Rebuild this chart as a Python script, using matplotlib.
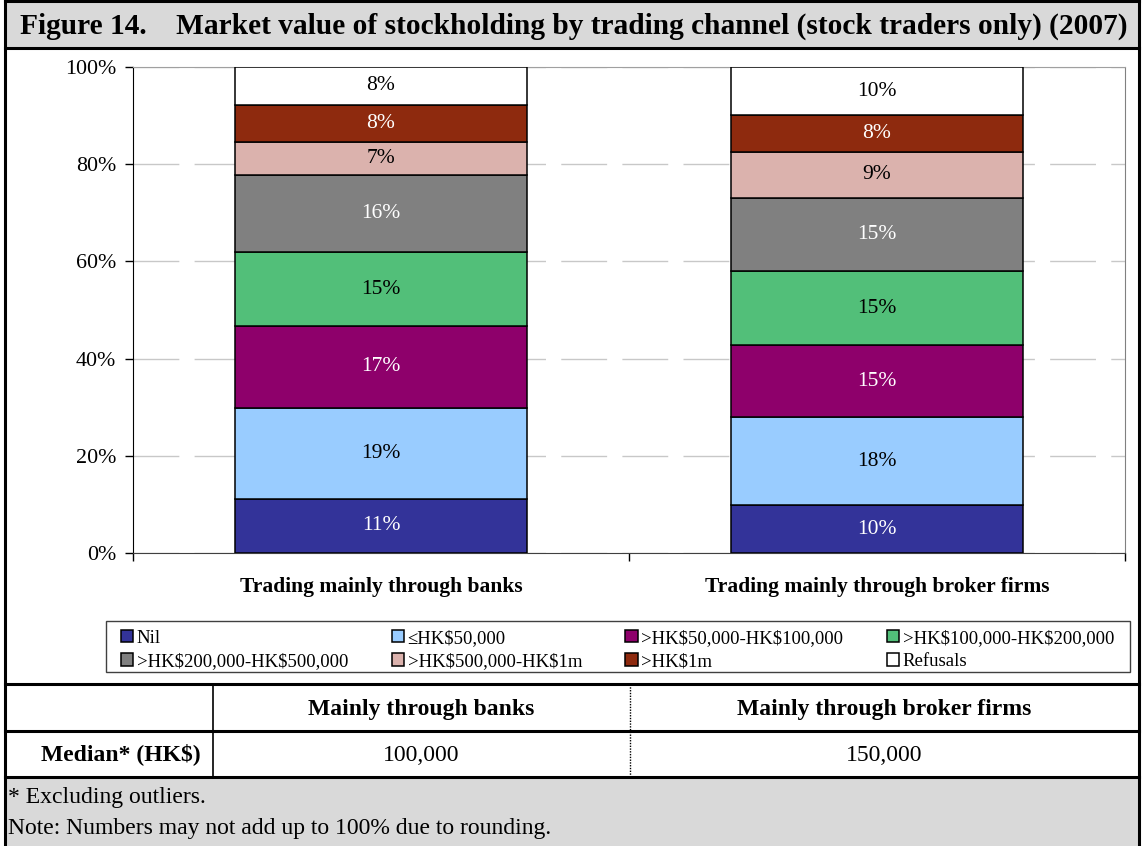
import matplotlib
matplotlib.use("Agg")
import matplotlib.pyplot as plt
from matplotlib.patches import Rectangle
from matplotlib.lines import Line2D
import numpy as np

plt.rcParams['font.family'] = ['Liberation Serif', 'DejaVu Serif']
plt.rcParams['text.parse_math'] = False

# data (per cent of stock traders)
channels = ["Trading mainly through banks", "Trading mainly through broker firms"]
bands = ["Nil", "\u2264HK$50,000", ">HK$50,000-HK$100,000", ">HK$100,000-HK$200,000",
         ">HK$200,000-HK$500,000", ">HK$500,000-HK$1m", ">HK$1m", "Refusals"]
banks = [11.2, 18.7, 16.8, 15.2, 15.9, 6.8, 7.6, 7.8]
brokers = [9.8, 18.15, 14.75, 15.3, 15.1, 9.4, 7.6, 9.9]
colors = ["#333399", "#99ccff", "#8e006b", "#52bf79", "#808080", "#dbb2ad", "#8e2a0e", "#ffffff"]
txt_colors = ["white", "black", "white", "black", "white", "black", "white", "black"]

table_cols = ["Mainly through banks", "Mainly through broker firms"]
table_row = "Median* (HK$)"
medians = ["100,000", "150,000"]
notes = ["* Excluding outliers.", "Note: Numbers may not add up to 100% due to rounding."]
title = "Figure 14.    Market value of stockholding by trading channel (stock traders only) (2007)"

W, H = 1142, 846
def fx(px):
    return px / W
def fy(py):
    return 1 - py / H

fig = plt.figure(figsize=(W / 100, H / 100), dpi=100)
grey_bg = "#d9d9d9"

# title bar and footnote band
fig.patches.append(Rectangle((fx(5), fy(48)), fx(1139) - fx(5), fy(0) - fy(48),
                             transform=fig.transFigure, facecolor=grey_bg, edgecolor="none", zorder=0))
fig.patches.append(Rectangle((fx(5), fy(846)), fx(1139) - fx(5), fy(777) - fy(846),
                             transform=fig.transFigure, facecolor=grey_bg, edgecolor="none", zorder=0))
fig.text(fx(574), fy(26), title, ha="center", va="center", fontsize=21.2, fontweight="bold")

# chart
ax = fig.add_axes([fx(133), fy(553), fx(1125) - fx(133), fy(67) - fy(553)])
x = np.arange(len(channels))
data = np.array([banks, brokers])
bottom = np.zeros(len(channels))
handles = []
for i, band in enumerate(bands):
    vals = data[:, i]
    b = ax.bar(x, vals, 0.59, bottom=bottom, color=colors[i], edgecolor="black",
               linewidth=1.1, label=band, zorder=3)
    handles.append(b)
    for xi, v, b0 in zip(x, vals, bottom):
        ax.text(xi, b0 + v / 2, f"{round(v):.0f}%", ha="center", va="center",
                fontsize=15.5, color=txt_colors[i], zorder=4)
    bottom += vals

ax.set_xlim(-0.5, 1.5)
ax.set_ylim(0, 100)
ax.set_yticks(np.arange(0, 101, 20))
ax.set_yticklabels([f"{t}%" for t in range(0, 101, 20)], fontsize=15.8)
ax.tick_params(axis="y", direction="out", length=6, width=1, pad=6)
ax.set_xticks(x)
ax.set_xticklabels(channels, fontsize=15.5, fontweight="bold")
ax.tick_params(axis="x", which="major", length=0, pad=17)
ax.set_xticks([-0.5, 0.5, 1.5], minor=True)
ax.tick_params(axis="x", which="minor", direction="out", length=6, width=1)
ax.yaxis.grid(True, color="#c8c8c8", linewidth=1.0, linestyle=(0, (33, 11)), zorder=0)
ax.set_axisbelow(True)
ax.spines["left"].set_color("black")
ax.spines["bottom"].set_color("#404040")
ax.spines["top"].set_color("#a0a0a0")
ax.spines["right"].set_color("#808080")

# legend, filled row by row; frame drawn separately
fig.patches.append(Rectangle((fx(106), fy(672)), fx(1130) - fx(106), fy(621) - fy(672),
                             transform=fig.transFigure, facecolor="white", edgecolor="#404040",
                             linewidth=1.0, zorder=1))
order = [0, 4, 1, 5, 2, 6, 3, 7]
leg = fig.legend([handles[k] for k in order], [bands[k] for k in order], ncol=4,
                 loc="center left", mode="expand",
                 bbox_to_anchor=(fx(121), fy(675), fx(1114) - fx(121), fy(625) - fy(675)),
                 bbox_transform=fig.transFigure, fontsize=13.5, frameon=False,
                 handlelength=0.65, handleheight=0.65, handletextpad=0.2, borderaxespad=0,
                 labelspacing=0.35, borderpad=0.0)

# table lines
def hline(py, lw=2.2, x0=5, x1=1139):
    fig.add_artist(Line2D([fx(x0), fx(x1)], [fy(py), fy(py)], transform=fig.transFigure,
                          color="black", linewidth=lw))
def vline(px, y0, y1, lw=1.2, ls="-"):
    fig.add_artist(Line2D([fx(px), fx(px)], [fy(y0), fy(y1)], transform=fig.transFigure,
                          color="black", linewidth=lw, linestyle=ls))

hline(1, lw=2.2)
hline(48, lw=2.2)
hline(684)
hline(731)
hline(777)
vline(5, 0, 846, lw=2.2)
vline(1139, 0, 846, lw=2.2)
vline(213, 684, 777)
vline(630, 684, 777, lw=1.0, ls=(0, (1, 1)))

col_centers = [421.5, 884.5]
for cx, head, med in zip(col_centers, table_cols, medians):
    fig.text(fx(cx), fy(709), head, ha="center", va="center", fontsize=17, fontweight="bold")
    fig.text(fx(cx), fy(755), med, ha="center", va="center", fontsize=17)
fig.text(fx(201), fy(754), table_row, ha="right", va="center", fontsize=17, fontweight="bold")

fig.text(fx(8), fy(797), notes[0], ha="left", va="center", fontsize=17)
fig.text(fx(8), fy(828), notes[1], ha="left", va="center", fontsize=17)

fig.savefig("out.png", dpi=100, facecolor="white")
